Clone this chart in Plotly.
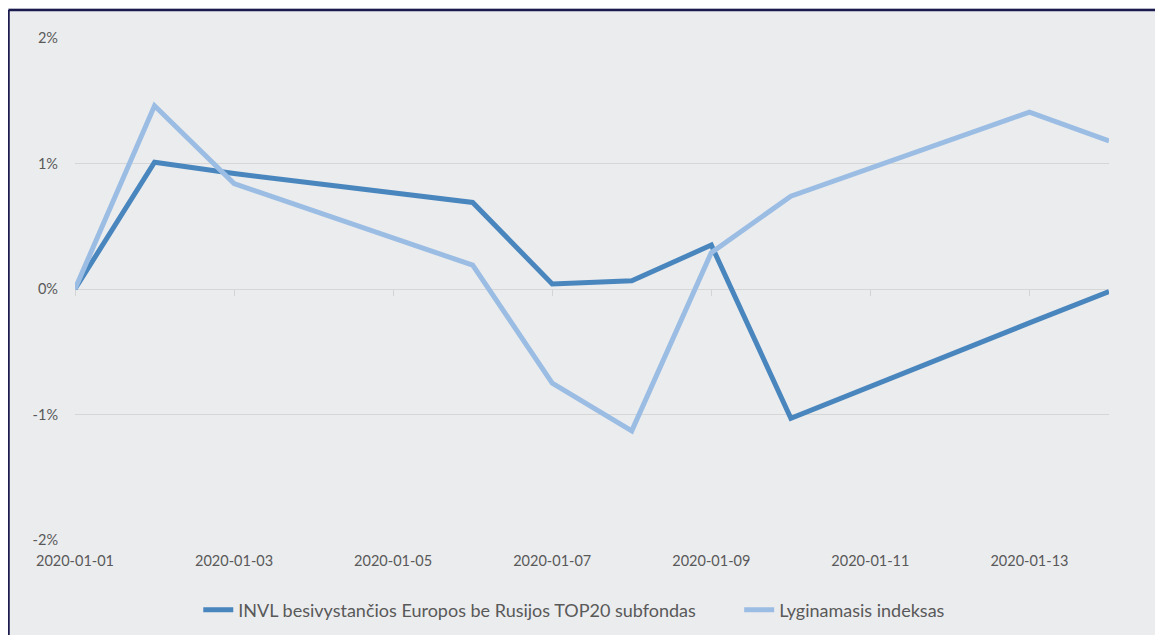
import plotly.graph_objects as go

dates = ["2020-01-01", "2020-01-02", "2020-01-03", "2020-01-06", "2020-01-07",
         "2020-01-08", "2020-01-09", "2020-01-10", "2020-01-13", "2020-01-14"]
fund = [0.0, 1.01, 0.92, 0.69, 0.04, 0.065, 0.35, -1.03, -0.27, -0.02]
index = [0.0, 1.46, 0.84, 0.19, -0.75, -1.13, 0.29, 0.74, 1.41, 1.18]
fund_name = "INVL besivystančios Europos be Rusijos TOP20 subfondas"
index_name = "Lyginamasis indeksas"
x_ticks = ["2020-01-01", "2020-01-03", "2020-01-05", "2020-01-07",
           "2020-01-09", "2020-01-11", "2020-01-13"]
y_ticks = [-2, -1, 0, 1, 2]
y_labels = ["-2%", "-1%", "0%", "1%", "2%"]

FONT = "Lato"
GREY_TXT = "#595959"
BG = "#ebecee"
W, H = 1163, 635
ML, MR, MT, MB = 67, 62, 30, 103
pw, ph = W - ML - MR, H - MT - MB

fig = go.Figure()
fig.add_trace(go.Scatter(x=dates, y=fund, name=fund_name, mode="lines",
                         line=dict(color="#4a86be", width=5), legend="legend"))
fig.add_trace(go.Scatter(x=dates, y=index, name=index_name, mode="lines",
                         line=dict(color="#9bbde3", width=5), legend="legend2"))
# invisible trace to carry the tick-mark axis at the 0% line
fig.add_trace(go.Scatter(x=dates, y=fund, xaxis="x2", mode="lines",
                         line=dict(width=0), opacity=0, showlegend=False,
                         hoverinfo="skip"))

bx = (0.5 - ML) / pw
by = (ph + MT - 2.0) / ph

legend_common = dict(orientation="h", xref="container", yref="container",
                     xanchor="left", y=0.052, yanchor="middle",
                     font=dict(size=18, color=GREY_TXT),
                     bgcolor="rgba(0,0,0,0)")

fig.update_layout(
    width=W, height=H,
    margin=dict(l=ML, r=MR, t=MT, b=MB, autoexpand=False),
    paper_bgcolor=BG, plot_bgcolor=BG,
    font=dict(family=FONT, color=GREY_TXT, size=13),
    xaxis=dict(type="date", range=["2020-01-01", "2020-01-14"],
               tickvals=x_ticks, ticktext=x_ticks, showgrid=False,
               zeroline=False, showline=False, ticks="",
               tickfont=dict(size=14.5, color=GREY_TXT),
               ticklabelstandoff=10),
    xaxis2=dict(type="date", matches="x", overlaying="x", anchor="free",
                position=0.5, tickvals=x_ticks, showticklabels=False,
                showgrid=False, zeroline=False, showline=False,
                ticks="outside", ticklen=6, tickcolor="#d4d4d4", tickwidth=1.3),
    yaxis=dict(range=[-2, 2], tickvals=y_ticks, ticktext=y_labels,
               showgrid=True, gridcolor="#d6d6d6", gridwidth=1.3,
               zeroline=False, showline=False, ticks="",
               tickfont=dict(size=14.5, color=GREY_TXT),
               ticklabelstandoff=16),
    legend=dict(x=0.1636, **legend_common),
    legend2=dict(x=0.6287, **legend_common),
    showlegend=True,
    shapes=[
        dict(type="line", xref="paper", yref="paper",
             x0=bx, x1=1.2, y0=by, y1=by,
             line=dict(color="#1b1b4f", width=2.5)),
        dict(type="line", xref="paper", yref="paper",
             x0=bx, x1=bx, y0=-0.3, y1=by,
             line=dict(color="#1b1b4f", width=2.5)),
    ],
)

fig.write_html("out.html")
